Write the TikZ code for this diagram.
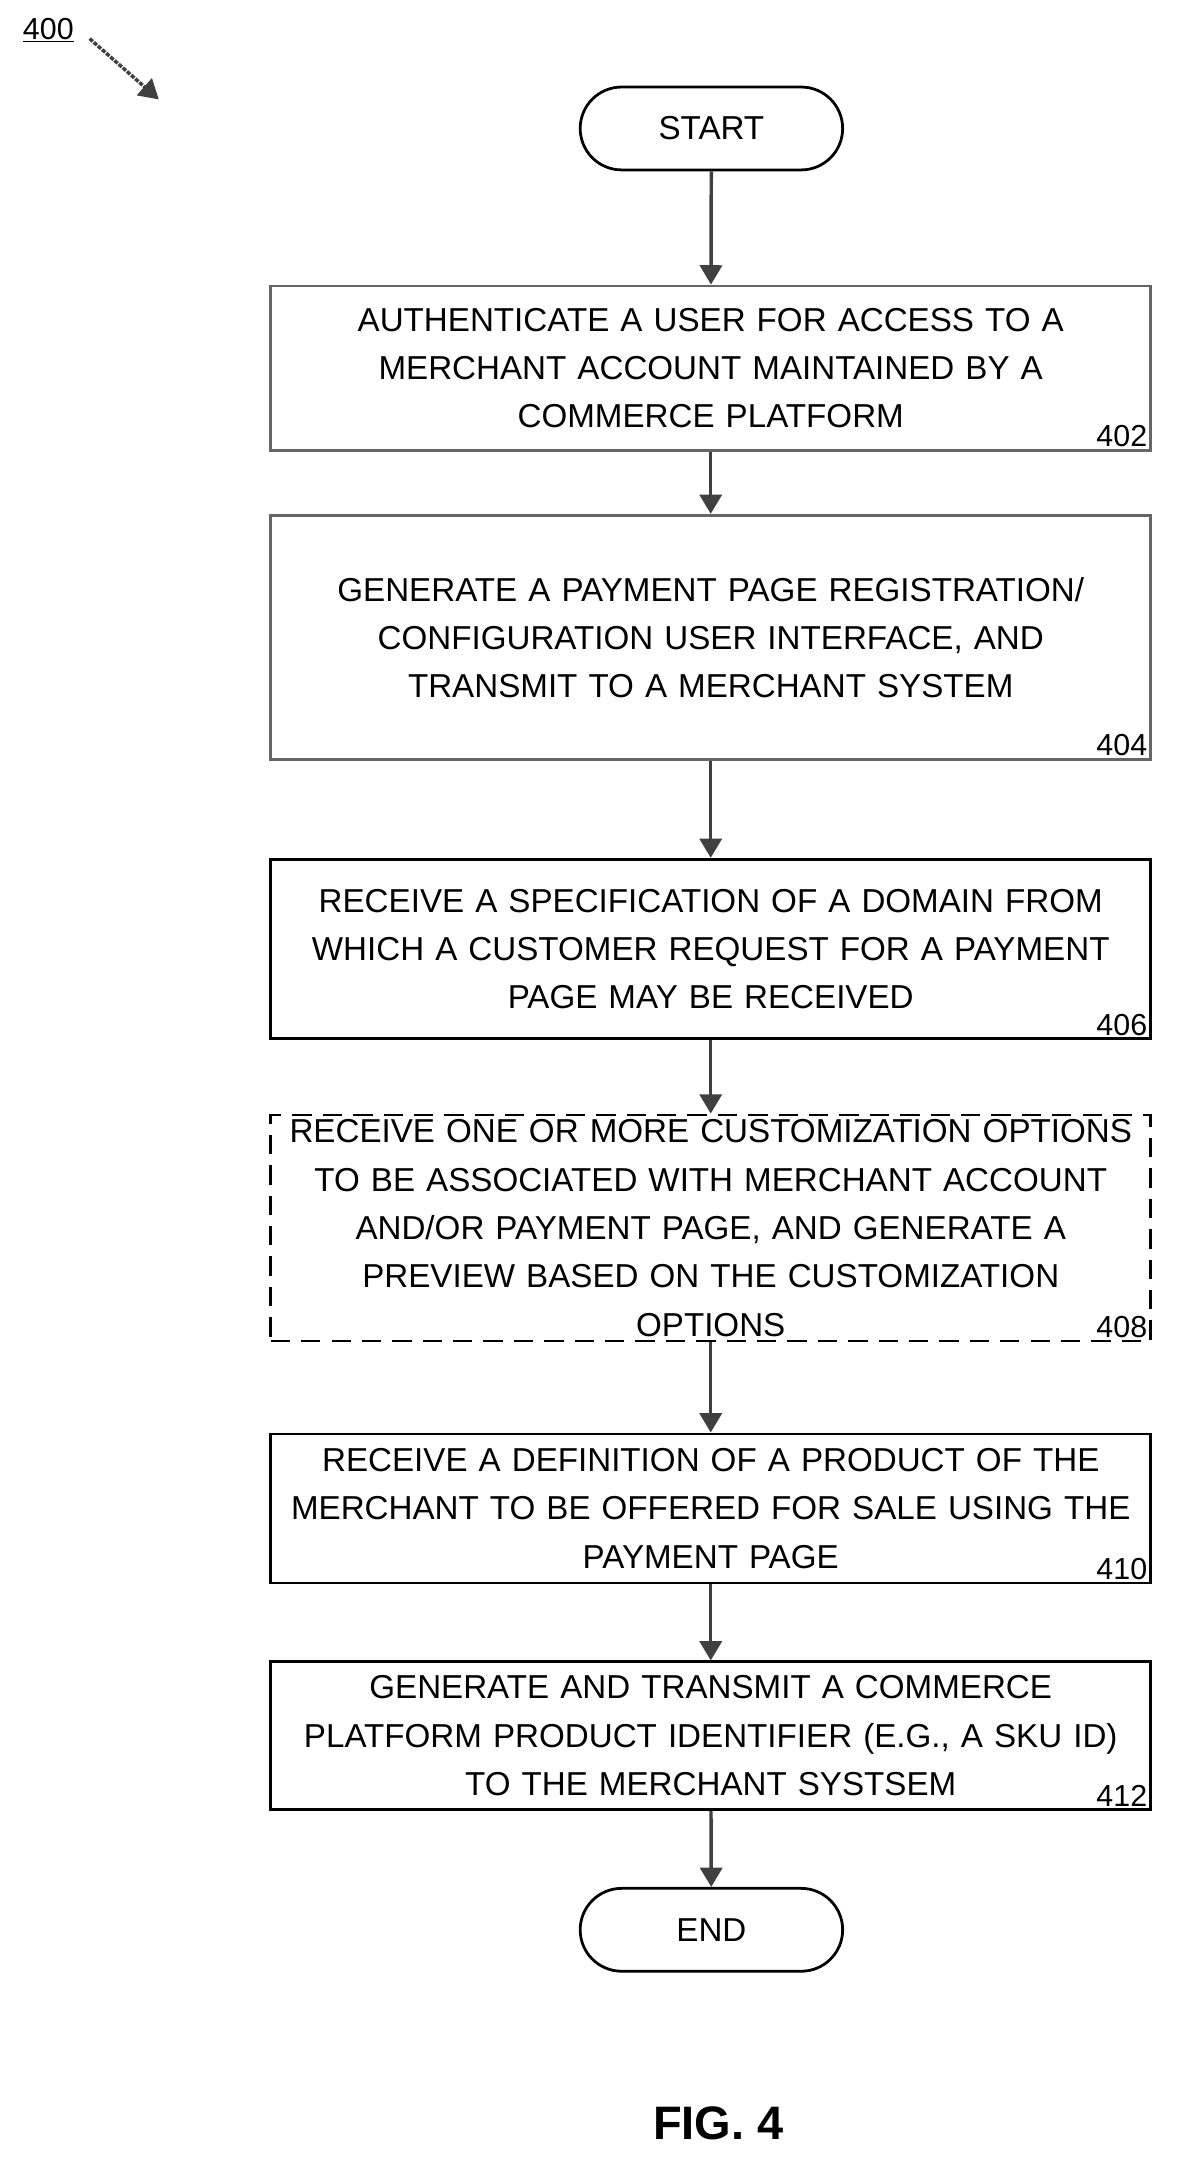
\documentclass[tikz,border=0pt]{standalone}
\usepackage{fontspec}
\setmainfont{Liberation Sans}
\usetikzlibrary{arrows.meta}
\begin{document}
\begin{tikzpicture}[x=1pt, y=-1pt,
    block/.style={rectangle, draw, line width=2pt, minimum width=637pt, text width=630pt, align=center, font=\fontsize{24}{35}\selectfont},
    term/.style={rectangle, rounded corners=30pt, draw, line width=2pt, minimum width=190pt, minimum height=60pt, font=\fontsize{24}{28}\selectfont},
    line/.style={draw, line width=2.5pt, black!75, -{Triangle[width=16pt,length=14pt]}},
    num/.style={anchor=south east, font=\fontsize{22}{26}\selectfont}]
\useasboundingbox (0,0) rectangle (853,1568);

% Nodes
\node [term] (start) at (515,93) {START};
\node [block, draw=black!60, minimum height=119pt] (auth) at (514.5,266.5) {AUTHENTICATE A USER FOR ACCESS TO A\\MERCHANT ACCOUNT MAINTAINED BY A\\COMMERCE PLATFORM};
\node [block, draw=black!60, minimum height=177pt] (ui) at (514.5,461.5) {GENERATE A PAYMENT PAGE REGISTRATION/\\CONFIGURATION USER INTERFACE, AND\\TRANSMIT TO A MERCHANT SYSTEM};
\node [block, minimum height=130pt] (domain) at (514.5,687) {RECEIVE A SPECIFICATION OF A DOMAIN FROM\\WHICH A CUSTOMER REQUEST FOR A PAYMENT\\PAGE MAY BE RECEIVED};
\node [block, dashed, dash pattern=on 14pt off 8pt, minimum height=148pt] (custom) at (514.5,889) {RECEIVE ONE OR MORE CUSTOMIZATION OPTIONS\\TO BE ASSOCIATED WITH MERCHANT ACCOUNT\\AND/OR PAYMENT PAGE, AND GENERATE A\\PREVIEW BASED ON THE CUSTOMIZATION\\OPTIONS};
\node [block, minimum height=108pt] (product) at (514.5,1092) {RECEIVE A DEFINITION OF A PRODUCT OF THE\\MERCHANT TO BE OFFERED FOR SALE USING THE\\PAYMENT PAGE};
\node [block, minimum height=107pt] (sku) at (514.5,1256.5) {GENERATE AND TRANSMIT A COMMERCE\\PLATFORM PRODUCT IDENTIFIER (E.G., A SKU ID)\\TO THE MERCHANT SYSTSEM};
\node [term] (end) at (515,1397) {END};

% Reference numerals
\node [num] at (auth.south east) {402};
\node [num] at (ui.south east) {404};
\node [num] at (domain.south east) {406};
\node [num] at (custom.south east) {408};
\node [num] at (product.south east) {410};
\node [num] at (sku.south east) {412};

\node [font=\fontsize{22}{26}\selectfont] (fig) at (35,22) {\underline{400}};
\coordinate (figtip) at (115,72);
\path [line, dash pattern=on 3pt off 1pt] (fig.east) ++(8,6) -- (figtip);
\node [font=\bfseries\fontsize{34}{40}\selectfont] (caption) at (520,1537) {FIG. 4};

% Arrows
\path [line] (start) -- (auth);
\path [line] (auth) -- (ui);
\path [line] (ui) -- (domain);
\path [line] (domain) -- (custom);
\path [line] (custom) -- (product);
\path [line] (product) -- (sku);
\path [line] (sku) -- (end);
\end{tikzpicture}
\end{document}
